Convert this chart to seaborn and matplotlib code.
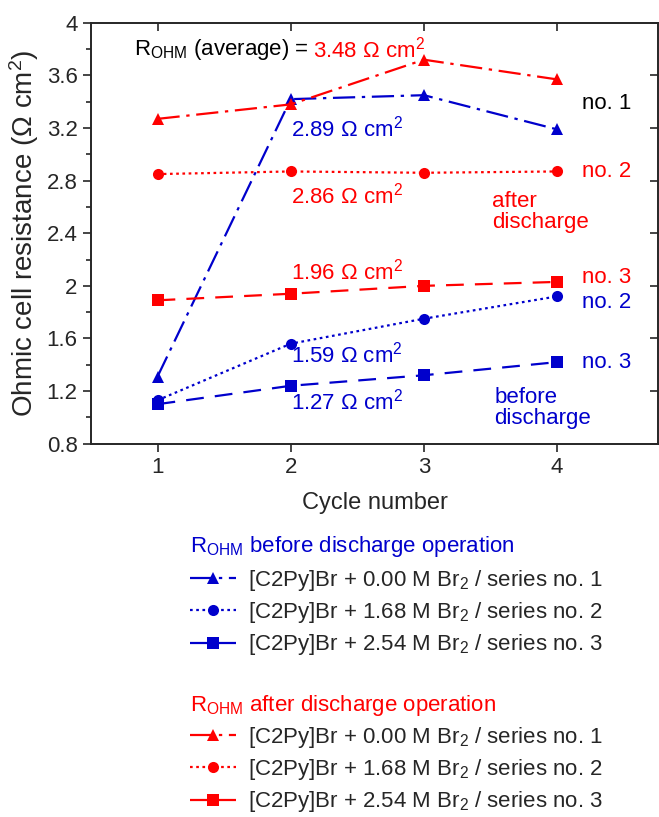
import pandas as pd
import matplotlib
matplotlib.use("Agg")
import matplotlib.pyplot as plt
import seaborn as sns
from matplotlib.lines import Line2D

# cycle numbers and ohmic resistance (Ohm cm2)
cycles = [1, 2, 3, 4]
before_no1 = [1.31, 3.42, 3.45, 3.19]
before_no2 = [1.13, 1.56, 1.75, 1.92]
before_no3 = [1.10, 1.24, 1.32, 1.42]
after_no1 = [3.27, 3.38, 3.72, 3.57]
after_no2 = [2.85, 2.87, 2.86, 2.87]
after_no3 = [1.89, 1.94, 2.00, 2.03]

averages = {"before_no1": "2.89", "before_no2": "1.59", "before_no3": "1.27",
            "after_no1": "3.48", "after_no2": "2.86", "after_no3": "1.96"}
yticks = [0.8, 1.2, 1.6, 2.0, 2.4, 2.8, 3.2, 3.6, 4.0]
ytick_labels = ["0.8", "1.2", "1.6", "2", "2.4", "2.8", "3.2", "3.6", "4"]
legend_labels = ["[C2Py]Br + 0.00 M Br$_2$ / series no. 1",
                 "[C2Py]Br + 1.68 M Br$_2$ / series no. 2",
                 "[C2Py]Br + 2.54 M Br$_2$ / series no. 3"]

series = {"before_no1": before_no1, "before_no2": before_no2, "before_no3": before_no3,
          "after_no1": after_no1, "after_no2": after_no2, "after_no3": after_no3}
df = pd.DataFrame([(k, c, v) for k, vals in series.items() for c, v in zip(cycles, vals)],
                  columns=["series", "cycle", "R"])

BLUE = "#0000cc"
RED = "#ff0000"
palette = {k: (BLUE if k.startswith("before") else RED) for k in series}
markers = {k: {"1": "^", "2": "o", "3": "s"}[k[-1]] for k in series}
dash_map = {"1": (10, 3, 1.5, 3), "2": (1.2, 1.6), "3": (8, 5)}
dashes = {k: dash_map[k[-1]] for k in series}

sns.set_style("ticks")
plt.rcParams["font.family"] = ["Liberation Sans", "DejaVu Sans"]
plt.rcParams["mathtext.fontset"] = "custom"
plt.rcParams["mathtext.rm"] = "Liberation Sans"
plt.rcParams["mathtext.it"] = "Liberation Sans:italic"

fig = plt.figure(figsize=(6.59, 8.17), dpi=100)
ax = fig.add_axes([0.138, 0.457, 0.861, 0.515])

sns.lineplot(data=df, x="cycle", y="R", hue="series", style="series",
             palette=palette, markers=markers, dashes=dashes,
             markersize=8, markeredgewidth=0, linewidth=1.6, legend=False, ax=ax)

ax.set_xlim(0.5, 4.76)
ax.set_ylim(0.8, 4.0)
ax.set_xticks(cycles)
ax.set_yticks(yticks)
ax.set_yticklabels(ytick_labels)
ax.set_yticks([1.0, 1.4, 1.8, 2.2, 2.6, 3.0, 3.4, 3.8], minor=True)
ax.tick_params(axis="both", which="major", labelsize=16, length=6, width=1.2, direction="out")
ax.tick_params(axis="y", which="minor", length=3.5, width=1.2, direction="out")
ax.tick_params(top=True, right=True)
for sp in ax.spines.values():
    sp.set_linewidth(1.4)
# mirrored ticks point inward on top/right
for t in ax.xaxis.get_major_ticks():
    t.tick2line.set_marker(3)
for t in ax.yaxis.get_major_ticks():
    t.tick2line.set_marker(0)
ax.set_xlabel("Cycle number", fontsize=17, labelpad=10)
ax.set_ylabel("Ohmic cell resistance (Ω cm$^2$)", fontsize=20, labelpad=4)

fs = 16
ax.text(0.82, 3.80, "R$_{\\mathrm{OHM}}$ (average) =", fontsize=fs, color="black", va="center")
ax.text(2.17, 3.80, averages["after_no1"] + " Ω cm$^2$", fontsize=fs, color=RED, va="center")
ax.text(2.0, 3.20, averages["before_no1"] + " Ω cm$^2$", fontsize=fs, color=BLUE, va="center")
ax.text(2.0, 2.69, averages["after_no2"] + " Ω cm$^2$", fontsize=fs, color=RED, va="center")
ax.text(2.0, 2.11, averages["after_no3"] + " Ω cm$^2$", fontsize=fs, color=RED, va="center")
ax.text(2.0, 1.48, averages["before_no2"] + " Ω cm$^2$", fontsize=fs, color=BLUE, va="center")
ax.text(2.0, 1.12, averages["before_no3"] + " Ω cm$^2$", fontsize=fs, color=BLUE, va="center")
ax.text(4.19, 3.385, "no. 1", fontsize=fs, color="black", va="center")
ax.text(4.19, 2.87, "no. 2", fontsize=fs, color=RED, va="center")
ax.text(3.51, 2.56, "after\ndischarge", fontsize=fs, color=RED, va="center", linespacing=1.0)
ax.text(4.19, 2.06, "no. 3", fontsize=fs, color=RED, va="center")
ax.text(4.19, 1.87, "no. 2", fontsize=fs, color=BLUE, va="center")
ax.text(4.19, 1.42, "no. 3", fontsize=fs, color=BLUE, va="center")
ax.text(3.53, 1.07, "before\ndischarge", fontsize=fs, color=BLUE, va="center", linespacing=1.0)

def make_handles(color):
    return [Line2D([], [], color=color, linewidth=1.6, marker=markers["before_no" + n],
                   markersize=8, markeredgewidth=0, dashes=dash_map[n]) for n in "123"]

for color, title, ytitle, ytop in [(BLUE, "before", 0.331, 0.305), (RED, "after", 0.137, 0.113)]:
    fig.text(0.288, ytitle, "R$_{\\mathrm{OHM}}$ " + title + " discharge operation",
             fontsize=16, color=color, va="center")
    fig.legend(make_handles(color), legend_labels, loc="upper left",
               bbox_to_anchor=(0.288, ytop), frameon=False, fontsize=16,
               handlelength=2.1, handletextpad=0.5, labelspacing=0.33,
               borderpad=0, borderaxespad=0)

fig.savefig("out.png", dpi=100, facecolor="white")
